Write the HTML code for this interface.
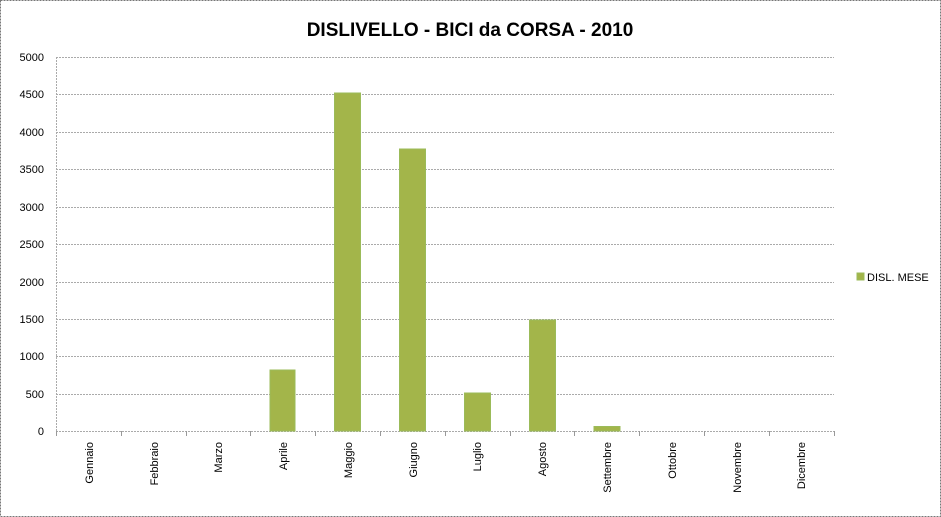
<!DOCTYPE html>
<html><head><meta charset="utf-8"><style>
body{margin:0;background:#fff;}
svg{display:block;font-family:"Liberation Sans",sans-serif;}
</style></head><body>
<svg width="941" height="517" viewBox="0 0 941 517">
<rect x="0.5" y="0.5" width="940" height="516" fill="#fff" stroke="#777" stroke-dasharray="2,1"/>
<text x="470" y="36" text-anchor="middle" font-size="19" font-weight="bold" fill="#000">DISLIVELLO - BICI da CORSA - 2010</text>
<g stroke="#aaa" stroke-dasharray="2,1" stroke-width="1">
<line x1="56" x2="834" y1="57.5" y2="57.5"/>
<line x1="56" x2="834" y1="94.5" y2="94.5"/>
<line x1="56" x2="834" y1="132.5" y2="132.5"/>
<line x1="56" x2="834" y1="169.5" y2="169.5"/>
<line x1="56" x2="834" y1="207.5" y2="207.5"/>
<line x1="56" x2="834" y1="244.5" y2="244.5"/>
<line x1="56" x2="834" y1="282.5" y2="282.5"/>
<line x1="56" x2="834" y1="319.5" y2="319.5"/>
<line x1="56" x2="834" y1="356.5" y2="356.5"/>
<line x1="56" x2="834" y1="394.5" y2="394.5"/>
<line x1="56" x2="834" y1="431.5" y2="431.5"/>
<line x1="56.5" x2="56.5" y1="57" y2="431"/>
</g>
<g stroke="#999" stroke-width="1">
<line x1="56.5" x2="56.5" y1="431" y2="436"/>
<line x1="121.5" x2="121.5" y1="431" y2="436"/>
<line x1="186.5" x2="186.5" y1="431" y2="436"/>
<line x1="250.5" x2="250.5" y1="431" y2="436"/>
<line x1="315.5" x2="315.5" y1="431" y2="436"/>
<line x1="380.5" x2="380.5" y1="431" y2="436"/>
<line x1="445.5" x2="445.5" y1="431" y2="436"/>
<line x1="510.5" x2="510.5" y1="431" y2="436"/>
<line x1="574.5" x2="574.5" y1="431" y2="436"/>
<line x1="639.5" x2="639.5" y1="431" y2="436"/>
<line x1="704.5" x2="704.5" y1="431" y2="436"/>
<line x1="769.5" x2="769.5" y1="431" y2="436"/>
<line x1="834.5" x2="834.5" y1="431" y2="436"/>
</g>
<g font-size="11" fill="#000" text-anchor="end">
<text x="44" y="61">5000</text><text x="44" y="98">4500</text><text x="44" y="136">4000</text>
<text x="44" y="173">3500</text><text x="44" y="211">3000</text><text x="44" y="248">2500</text>
<text x="44" y="286">2000</text><text x="44" y="323">1500</text><text x="44" y="360">1000</text>
<text x="44" y="398">500</text><text x="44" y="435">0</text>
</g>
<g fill="#a3b54a" stroke="#9bbb59" stroke-width="1">
<rect x="270" y="370" width="25" height="61"/>
<rect x="334.5" y="93" width="26" height="338"/>
<rect x="399.5" y="149" width="26" height="282"/>
<rect x="464.5" y="393" width="26" height="38"/>
<rect x="529.5" y="320" width="26" height="111"/>
<rect x="594" y="426.5" width="26" height="4.5"/>
</g>
<g font-size="11" fill="#000" text-anchor="end">
<text transform="translate(93,442) rotate(-90)">Gennaio</text>
<text transform="translate(158,442) rotate(-90)">Febbraio</text>
<text transform="translate(222,442) rotate(-90)">Marzo</text>
<text transform="translate(287,442) rotate(-90)">Aprile</text>
<text transform="translate(352,442) rotate(-90)">Maggio</text>
<text transform="translate(417,442) rotate(-90)">Giugno</text>
<text transform="translate(481,442) rotate(-90)">Luglio</text>
<text transform="translate(546,442) rotate(-90)">Agosto</text>
<text transform="translate(611,442) rotate(-90)">Settembre</text>
<text transform="translate(676,442) rotate(-90)">Ottobre</text>
<text transform="translate(741,442) rotate(-90)">Novembre</text>
<text transform="translate(805,442) rotate(-90)">Dicembre</text>
</g>
<rect x="857" y="273" width="7" height="7" fill="#a3b54a" stroke="#9bbb59"/>
<text x="867" y="281" font-size="11" fill="#000">DISL. MESE</text>
</svg>
</body></html>
